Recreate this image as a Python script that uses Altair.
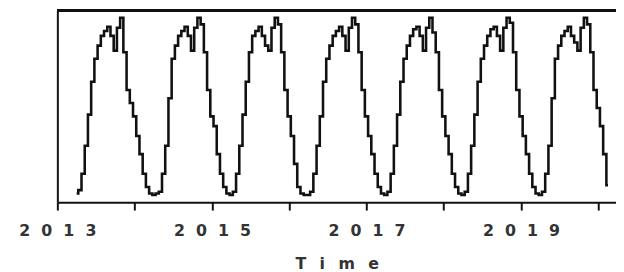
import altair as alt
import pandas as pd

# Series: 24 observations per year, starting at 2013.25
start_year = 2013.25
freq = 24

values_2013 = [0.9, 2.8, 12.0, 27.8, 45.4, 63.9, 76.9, 84.3, 89.8, 92.6, 95.0, 89.8,
               81.5, 94.4, 100.0, 80.6, 59.3, 51.9, 44.4, 33.3, 23.1, 12.0, 4.6, 0.9]
values_2014 = [0.0, 0.9, 1.9, 12.0, 27.8, 54.6, 76.9, 84.3, 89.8, 92.6, 95.0, 89.8,
               81.5, 94.4, 100.0, 96.3, 80.6, 59.3, 44.4, 38.9, 23.1, 12.0, 4.6, 0.9]
values_2015 = [0.0, 1.9, 12.0, 27.8, 45.4, 63.9, 80.6, 89.8, 92.6, 95.0, 89.8, 84.3,
               81.5, 94.4, 100.0, 96.3, 80.6, 59.3, 44.4, 33.3, 17.6, 4.6, 0.9, 0.0]
values_2016 = [0.0, 1.9, 12.0, 27.8, 44.4, 63.9, 76.9, 84.3, 89.8, 92.6, 95.0, 89.8,
               81.5, 94.4, 100.0, 96.3, 80.6, 59.3, 44.4, 33.3, 23.1, 12.0, 4.6, 0.9]
values_2017 = [0.0, 1.9, 12.0, 27.8, 45.4, 63.9, 76.9, 84.3, 89.8, 93.5, 95.0, 89.8,
               81.5, 94.4, 100.0, 91.7, 80.6, 59.3, 44.4, 33.3, 23.1, 12.0, 4.6, 0.9]
values_2018 = [0.0, 1.9, 12.0, 27.8, 45.4, 63.9, 76.9, 84.3, 89.8, 93.5, 95.0, 89.8,
               81.5, 94.4, 100.0, 97.2, 80.6, 59.3, 44.4, 33.3, 23.1, 12.0, 4.6, 0.9]
values_2019 = [0.0, 1.9, 12.0, 27.8, 54.6, 76.9, 84.3, 89.8, 92.6, 95.0, 89.8, 86.1,
               81.5, 94.4, 100.0, 96.3, 80.6, 59.3, 49.1, 38.9, 23.1, 5.6]

tick_years = [2013, 2014, 2015, 2016, 2017, 2018, 2019, 2020]
x_title = "Time"

series = (values_2013 + values_2014 + values_2015 + values_2016 +
          values_2017 + values_2018 + values_2019)
times = [start_year + k / freq for k in range(len(series))]
df = pd.DataFrame({"t": times, "v": series})

W, H = 566, 194
px_per_year = 78.3
x_domain = [2013.0, 2013.0 + W / px_per_year]

LABEL_GAP = "\u2002\u2009"
TITLE_GAP = "\u2002\u2005\u200a"
spaced_title = TITLE_GAP.join(list(x_title))

line = alt.Chart(df).mark_line(
    color="#111111", strokeWidth=2.6, interpolate="step", clip=True
).encode(
    x=alt.X(
        "t:Q",
        scale=alt.Scale(domain=x_domain, nice=False, zero=False),
        axis=alt.Axis(
            values=tick_years,
            format="d",
            labelExpr="datum.value % 2 == 1 ? join(split(datum.label, ''), '" + LABEL_GAP + "') : ''",
            tickSize=8, tickWidth=2, tickColor="#111111",
            domainWidth=2, domainColor="#111111",
            labelFont="DejaVu Sans", labelFontSize=16, labelFontWeight="bold",
            labelColor="#333333",
            labelPadding=13, labelFlush=False, labelOverlap=False,
            grid=False,
            title=spaced_title,
            titleFont="DejaVu Sans", titleFontSize=16, titleFontWeight="bold",
            titleColor="#333333", titlePadding=17,
        ),
    ),
    y=alt.Y(
        "v:Q",
        scale=alt.Scale(domain=[-4, 104], nice=False, zero=False),
        axis=alt.Axis(labels=False, ticks=False, title=None, grid=False,
                      domainWidth=2, domainColor="#111111"),
    ),
)

top_border = alt.Chart(df).mark_rule(color="#111111", strokeWidth=2).encode(
    x=alt.value(0), x2=alt.value(W), y=alt.value(0)
)

chart = alt.layer(line, top_border).properties(
    width=W, height=H,
    autosize=alt.AutoSizeParams(type="none"),
    padding={"left": 50, "top": 1, "right": 0, "bottom": 69},
).configure_view(stroke=None)

chart.save("out.html", embed_options={"renderer": "svg", "actions": False})
